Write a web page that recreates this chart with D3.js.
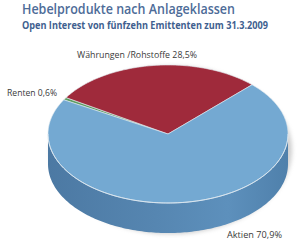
<!DOCTYPE html>
<html>
<head>
<meta charset="utf-8">
<script src="https://cdn.jsdelivr.net/npm/d3@7"></script>
<style>
  body { margin: 0; background: #fff; }
  svg { display: block; }
</style>
</head>
<body>
<div id="chart"></div>
<script>
var categories = ["Renten", "Währungen /Rohstoffe", "Aktien"];
var values = [0.6, 28.5, 70.9];
var topColors = ["#5f9d62", "#9f2a3b", "#74a9d2"];

var width = 297, height = 246;
var cx = 168, cy = 134, rx = 120, ry = 69, depth = 30;

var svg = d3.select("#chart").append("svg")
  .attr("width", width)
  .attr("height", height);

var defs = svg.append("defs");
var grad = defs.append("linearGradient").attr("id", "side")
  .attr("x1", "0%").attr("x2", "100%").attr("y1", "0%").attr("y2", "0%");
grad.append("stop").attr("offset", "0%").attr("stop-color", "#4c79a3");
grad.append("stop").attr("offset", "45%").attr("stop-color", "#5686b1");
grad.append("stop").attr("offset", "75%").attr("stop-color", "#5d90bc");
grad.append("stop").attr("offset", "100%").attr("stop-color", "#4f80ab");

var blur = defs.append("filter").attr("id", "blur")
  .attr("x", "-20%").attr("y", "-20%").attr("width", "140%").attr("height", "140%");
blur.append("feGaussianBlur").attr("stdDeviation", 2);

// titles
svg.append("text")
  .attr("x", 22).attr("y", 14)
  .attr("textLength", 213).attr("lengthAdjust", "spacingAndGlyphs")
  .style("font-family", "'Open Sans', sans-serif")
  .style("font-size", "14px")
  .style("font-weight", 600)
  .style("fill", "#4d6c98")
  .text("Hebelprodukte nach Anlageklassen");

svg.append("text")
  .attr("x", 22).attr("y", 29)
  .attr("textLength", 246).attr("lengthAdjust", "spacingAndGlyphs")
  .style("font-family", "'Open Sans', sans-serif")
  .style("font-size", "10px")
  .style("font-weight", "bold")
  .style("fill", "#3f5f8f")
  .text("Open Interest von fünfzehn Emittenten zum 31.3.2009");

// pie layout, first slice starts upper left
var start = -60.3 * Math.PI / 180;
var pie = d3.pie().sort(null).value(function(d) { return d; })
  .startAngle(start).endAngle(start + 2 * Math.PI);
var arcs = pie(values);

function pt(a, dy) {
  return [cx + rx * Math.sin(a), cy - ry * Math.cos(a) + (dy || 0)];
}
function arcPoints(a0, a1, dy) {
  var n = Math.max(2, Math.ceil(Math.abs(a1 - a0) / 0.02));
  return d3.range(n + 1).map(function(i) { return pt(a0 + (a1 - a0) * i / n, dy); });
}

// shadow, mostly on the right
svg.append("ellipse")
  .attr("cx", cx + 3).attr("cy", cy + depth / 2 + 1)
  .attr("rx", rx + 1).attr("ry", ry + depth / 2)
  .attr("fill", "#a0a0a0").attr("opacity", 0.5)
  .attr("filter", "url(#blur)");

// side walls (front half only)
var line = d3.line();
arcs.forEach(function(d, i) {
  [-1, 0, 1].forEach(function(k) {
    var f0 = Math.PI / 2 + 2 * Math.PI * k, f1 = 3 * Math.PI / 2 + 2 * Math.PI * k;
    var s = Math.max(d.startAngle, f0), e = Math.min(d.endAngle, f1);
    if (e <= s) return;
    var pts = arcPoints(s, e, 0).concat(arcPoints(e, s, depth));
    svg.append("path")
      .attr("d", line(pts) + "Z")
      .attr("fill", i === 2 ? "url(#side)" : d3.color(topColors[i]).darker(0.7));
  });
});

// top faces
arcs.forEach(function(d, i) {
  var pts = [[cx, cy]].concat(arcPoints(d.startAngle, d.endAngle, 0));
  svg.append("path")
    .attr("d", line(pts) + "Z")
    .attr("fill", topColors[i])
    .attr("stroke", "#e4ecf2")
    .attr("stroke-width", 0.6)
    .attr("stroke-linejoin", "round");
});

// light rim on front edge
svg.append("path")
  .attr("d", line(arcPoints(Math.PI / 2, 3 * Math.PI / 2, 0)))
  .attr("fill", "none").attr("stroke", "#dce8f1").attr("stroke-width", 0.9);

// labels
function fmt(v) { return String(v).replace(".", ",") + "%"; }
var labelPos = [[7, 96, "start", 50], [77, 58, "start", 120], [282, 238, "end", 55]];
categories.forEach(function(c, i) {
  svg.append("text")
    .attr("x", labelPos[i][0]).attr("y", labelPos[i][1])
    .attr("text-anchor", labelPos[i][2])
    .attr("textLength", labelPos[i][3]).attr("lengthAdjust", "spacingAndGlyphs")
    .style("font-family", "'Open Sans', sans-serif")
    .style("font-size", "9.3px")
    .style("fill", "#3a3a3a")
    .text(c + " " + fmt(values[i]));
});
</script>
</body>
</html>
